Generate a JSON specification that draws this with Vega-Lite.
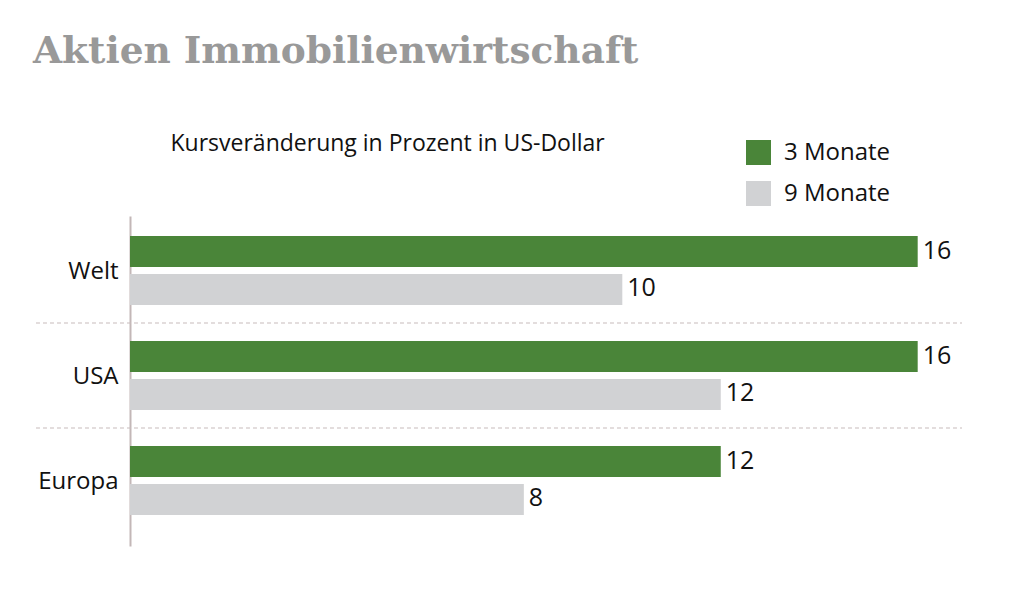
{
  "$schema": "https://vega.github.io/schema/vega-lite/v6.json",
  "width": 832,
  "height": 330,
  "autosize": {"type": "none"},
  "padding": {"left": 130, "top": 216, "right": 48, "bottom": 48},
  "background": "white",
  "config": {"view": {"stroke": null}, "font": "Open Sans"},
  "title": {
    "text": "Aktien Immobilienwirtschaft",
    "anchor": "start",
    "frame": "group",
    "font": "DejaVu Serif",
    "fontWeight": "bold",
    "fontSize": 37.5,
    "color": "#999999",
    "dx": -97,
    "offset": 62
  },
  "data": {
    "values": [
      {"region": "Welt", "series": "3 Monate", "value": 16},
      {"region": "Welt", "series": "9 Monate", "value": 10},
      {"region": "USA", "series": "3 Monate", "value": 16},
      {"region": "USA", "series": "9 Monate", "value": 12},
      {"region": "Europa", "series": "3 Monate", "value": 12},
      {"region": "Europa", "series": "9 Monate", "value": 8}
    ]
  },
  "layer": [
    {
      "mark": {"type": "bar"},
      "encoding": {
        "y": {
          "field": "region",
          "type": "nominal",
          "sort": ["Welt", "USA", "Europa"],
          "scale": {"paddingInner": 0, "paddingOuter": 0.0714, "align": 0.133},
          "axis": {
            "title": "Kursveränderung in Prozent in US-Dollar",
            "titleAngle": 0,
            "titleAlign": "left",
            "titleBaseline": "alphabetic",
            "titleX": 40,
            "titleY": -66,
            "titleFont": "Open Sans",
            "titleFontSize": 23,
            "titleFontWeight": "normal",
            "titleColor": "#111111",
            "labelFont": "Open Sans",
            "labelFontSize": 24,
            "labelColor": "#111111",
            "labelPadding": 12,
            "labelOffset": 2,
            "ticks": false,
            "domainColor": "#c3b7b7",
            "domainWidth": 2
          }
        },
        "yOffset": {
          "field": "series",
          "type": "nominal",
          "sort": ["3 Monate", "9 Monate"],
          "scale": {"paddingInner": 0.184, "paddingOuter": 0.474}
        },
        "x": {
          "field": "value",
          "type": "quantitative",
          "scale": {"domain": [0, 16.9], "nice": false},
          "axis": null
        },
        "color": {
          "field": "series",
          "type": "nominal",
          "scale": {"domain": ["3 Monate", "9 Monate"], "range": ["#4a8539", "#d1d2d4"]},
          "legend": {
            "orient": "none",
            "legendX": 616,
            "legendY": -76,
            "title": null,
            "symbolType": "square",
            "symbolSize": 625,
            "symbolStrokeWidth": 0,
            "labelFont": "Open Sans",
            "labelFontSize": 24,
            "labelColor": "#111111",
            "labelOffset": 13,
            "rowPadding": 16,
            "padding": 0
          }
        }
      }
    },
    {
      "mark": {"type": "text", "align": "left", "baseline": "middle", "dx": 5, "dy": -1, "fontSize": 25, "color": "#111111", "font": "Open Sans"},
      "encoding": {
        "y": {"field": "region", "type": "nominal", "sort": ["Welt", "USA", "Europa"]},
        "yOffset": {"field": "series", "type": "nominal", "sort": ["3 Monate", "9 Monate"]},
        "x": {"field": "value", "type": "quantitative"},
        "text": {"field": "value", "type": "quantitative"}
      }
    },
    {
      "data": {"values": [{"region": "Welt"}, {"region": "USA"}]},
      "mark": {"type": "rule", "strokeDash": [4, 3], "color": "#c8bbbb", "strokeWidth": 1.2},
      "encoding": {
        "y": {"field": "region", "type": "nominal", "bandPosition": 1, "sort": ["Welt", "USA", "Europa"]},
        "x": {"datum": -1.91},
        "x2": {"datum": 16.9}
      }
    }
  ]
}
